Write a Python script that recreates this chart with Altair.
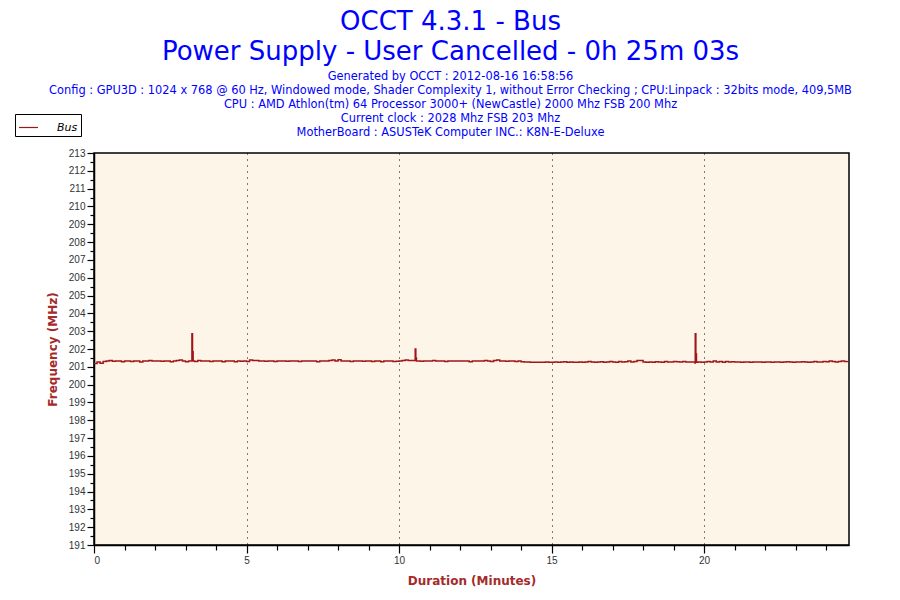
import altair as alt
import pandas as pd

# ---- data ----
SAMPLE_STEP = 0.1  # minutes between base samples

bus_values = [
    # 0 min
    201.18, 201.27, 201.20, 201.30, 201.33, 201.35, 201.31, 201.33, 201.33, 201.29,
    # 1
    201.33, 201.33, 201.30, 201.33, 201.33, 201.27, 201.33, 201.33, 201.35, 201.33,
    # 2
    201.33, 201.33, 201.31, 201.33, 201.33, 201.29, 201.33, 201.36, 201.38, 201.33,
    # 3
    201.28, 201.33, 201.33, 201.30, 201.36, 201.33, 201.33, 201.33, 201.30, 201.33,
    # 4
    201.33, 201.33, 201.29, 201.33, 201.33, 201.33, 201.28, 201.33, 201.31, 201.33,
    # 5
    201.30, 201.38, 201.35, 201.35, 201.33, 201.33, 201.31, 201.33, 201.33, 201.30,
    # 6
    201.33, 201.33, 201.33, 201.31, 201.33, 201.33, 201.33, 201.30, 201.33, 201.33,
    # 7
    201.33, 201.33, 201.33, 201.29, 201.33, 201.33, 201.33, 201.36, 201.38, 201.33,
    # 8
    201.40, 201.33, 201.33, 201.33, 201.30, 201.33, 201.33, 201.33, 201.31, 201.33,
    # 9
    201.33, 201.30, 201.33, 201.33, 201.28, 201.33, 201.33, 201.33, 201.30, 201.31,
    # 10
    201.33, 201.36, 201.38, 201.35, 201.35, 201.36, 201.33, 201.31, 201.33, 201.33,
    # 11
    201.33, 201.36, 201.33, 201.33, 201.33, 201.30, 201.33, 201.33, 201.33, 201.33,
    # 12
    201.33, 201.33, 201.33, 201.28, 201.33, 201.33, 201.33, 201.33, 201.36, 201.33,
    # 13
    201.30, 201.36, 201.38, 201.33, 201.33, 201.31, 201.33, 201.33, 201.30, 201.33,
    # 14
    201.28, 201.27, 201.27, 201.25, 201.25, 201.25, 201.25, 201.25, 201.27, 201.25,
    # 15
    201.25, 201.27, 201.25, 201.27, 201.28, 201.25, 201.27, 201.25, 201.25, 201.27,
    # 16
    201.25, 201.27, 201.30, 201.27, 201.25, 201.27, 201.28, 201.25, 201.27, 201.30,
    # 17
    201.27, 201.25, 201.30, 201.27, 201.28, 201.32, 201.27, 201.30, 201.35, 201.35,
    # 18
    201.27, 201.25, 201.27, 201.25, 201.28, 201.27, 201.25, 201.30, 201.27, 201.27,
    # 19
    201.30, 201.28, 201.27, 201.30, 201.27, 201.27, 201.27, 201.22, 201.27, 201.25,
    # 20
    201.27, 201.30, 201.27, 201.33, 201.27, 201.30, 201.25, 201.30, 201.27, 201.28,
    # 21
    201.27, 201.27, 201.25, 201.27, 201.27, 201.25, 201.27, 201.27, 201.27, 201.25,
    # 22
    201.27, 201.27, 201.25, 201.27, 201.27, 201.25, 201.27, 201.28, 201.27, 201.25,
    # 23
    201.27, 201.27, 201.28, 201.27, 201.25, 201.27, 201.30, 201.27, 201.27, 201.30,
    # 24
    201.28, 201.32, 201.30, 201.27, 201.30, 201.33, 201.30, 201.33,
]

spike_times = [3.21, 3.23, 3.25, 10.53, 10.55, 10.57, 19.71, 19.73, 19.75]
spike_values = [202.85, 201.85, 201.33, 202.00, 201.50, 201.33, 202.85, 201.72, 201.25]

title_lines = ["OCCT 4.3.1 - Bus", "Power Supply - User Cancelled - 0h 25m 03s"]
subtitle_lines = [
    "Generated by OCCT : 2012-08-16 16:58:56",
    "Config : GPU3D : 1024 x 768 @ 60 Hz, Windowed mode, Shader Complexity 1, without Error Checking ; CPU:Linpack : 32bits mode, 409,5MB",
    "CPU : AMD Athlon(tm) 64 Processor 3000+ (NewCastle) 2000 Mhz FSB 200 Mhz",
    "Current clock : 2028 Mhz FSB 203 Mhz",
    "MotherBoard : ASUSTeK Computer INC.: K8N-E-Deluxe",
]
series_name = "Bus"
x_ticks = list(range(0, 25))
y_ticks = [191 + 0.5 * i for i in range(45)]

base_times = [round(i * SAMPLE_STEP, 2) for i in range(len(bus_values))]
df = pd.DataFrame({
    "t": base_times + spike_times,
    "v": bus_values + spike_values,
}).sort_values("t").reset_index(drop=True)
df["series"] = series_name

LINE_COLOR = "#A0151A"
BLUE = "#0000FF"
AXIS_TITLE = "#A52A2A"
TICK_FONT = "Liberation Sans Narrow, Liberation Sans, Arial"

chart = alt.Chart(df).mark_line(interpolate="step-after", strokeWidth=1.5).encode(
    x=alt.X(
        "t:Q",
        scale=alt.Scale(domain=[0, 24.75], nice=False, zero=False),
        axis=alt.Axis(
            values=x_ticks,
            title="Duration (Minutes)",
            labelExpr="datum.value % 5 == 0 ? format(datum.value, 'd') : ''",
            tickSize=alt.condition("datum.value % 5 == 0", alt.value(8), alt.value(5)),
            grid=True,
            gridColor="black",
            gridDash=[1, 5],
            gridWidth=1,
            gridOpacity=alt.condition("datum.value % 5 == 0 && datum.value > 0", alt.value(1), alt.value(0)),
            titlePadding=10,
        ),
    ),
    y=alt.Y(
        "v:Q",
        scale=alt.Scale(domain=[191, 213], nice=False, zero=False),
        axis=alt.Axis(
            values=y_ticks,
            title="Frequency (MHz)",
            labelExpr="datum.value % 1 == 0 ? format(datum.value, 'd') : ''",
            tickSize=alt.condition("datum.value % 1 == 0", alt.value(7), alt.value(4)),
            grid=False,
            titlePadding=9,
        ),
    ),
    color=alt.Color(
        "series:N",
        scale=alt.Scale(domain=[series_name], range=[LINE_COLOR]),
        legend=alt.Legend(
            title=None,
            orient="none",
            legendX=-79,
            legendY=-39,
            symbolType="stroke",
            symbolSize=361,
            symbolStrokeWidth=1.2,
            labelFontStyle="italic",
            labelFontSize=11,
            labelColor="black",
            labelFont="DejaVu Sans",
            labelOffset=18,
            padding=3,
            strokeColor="black",
            fillColor="white",
        ),
    ),
    order="t:Q",
).properties(
    width=755,
    height=392,
    padding={"left": 86, "top": 145, "right": 43, "bottom": 47},
    autosize=alt.AutoSizeParams(type="none"),
    title=alt.TitleParams(
        text=title_lines,
        subtitle=subtitle_lines,
        anchor="middle",
        frame="group",
        dx=-21,
        dy=39,
        font="DejaVu Sans",
        fontSize=26,
        fontWeight="normal",
        color=BLUE,
        lineHeight=30,
        subtitleFont="DejaVu Sans",
        subtitleFontSize=11.4,
        subtitleColor=BLUE,
        subtitleLineHeight=14,
        subtitlePadding=6,
        offset=14,
    ),
).configure(
    background="white",
).configure_view(
    fill="#FDF6E8",
    stroke="black",
    strokeWidth=1.5,
).configure_axis(
    domainColor="black",
    domainWidth=1.5,
    tickColor="black",
    tickWidth=1.2,
    labelFont=TICK_FONT,
    labelFontSize=10,
    labelColor="#333333",
    titleFont="DejaVu Sans",
    titleFontSize=12,
    titleFontWeight="bold",
    titleColor=AXIS_TITLE,
)

chart.save("out.html", embed_options={"renderer": "svg", "actions": False})
